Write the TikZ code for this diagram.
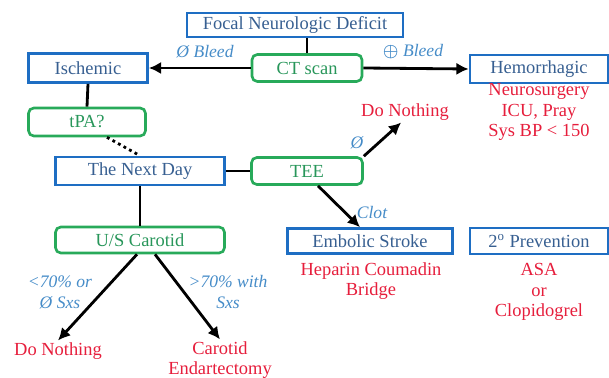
\documentclass[tikz,border=0pt]{standalone}
\usepackage{fontspec}
\setmainfont{Liberation Serif}
\usepackage{bm}
\usetikzlibrary{arrows.meta}
\definecolor{boxblue}{RGB}{30,110,195}
\definecolor{labelblue}{RGB}{55,95,145}
\definecolor{boxgreen}{RGB}{40,170,90}
\definecolor{labelgreen}{RGB}{40,150,90}
\definecolor{alertred}{RGB}{230,30,60}
\definecolor{condblue}{RGB}{70,140,200}
\tikzset{
  bluebox/.style={rectangle,draw=boxblue,line width=1.5pt,text=labelblue,inner sep=0pt},
  greenbox/.style={rectangle,draw=boxgreen,line width=1.5pt,text=labelgreen,inner sep=0pt,rounded corners=3pt},
  redtext/.style={text=alertred,align=center,inner sep=1pt},
  cond/.style={text=condblue,font=\itshape,align=center,inner sep=1pt},
  link/.style={line width=1.6pt},
  arrowlink/.style={link,-{Latex[length=7pt,width=7pt]}}
}

\begin{document}
\begin{tikzpicture}[x=0.02cm,y=-0.02cm,font=\fontsize{10.5}{11.5}\selectfont]
\useasboundingbox (0,0) rectangle (609,378);
%boxes
\path (295,25) node(focal) [bluebox,minimum width=4.32cm,minimum height=0.48cm]{Focal Neurologic Deficit};
\path (307,68) node(ct) [greenbox,minimum width=2.2cm,minimum height=0.54cm]{CT scan};
\path (88,68) node(ischemic) [bluebox,minimum width=2.38cm,minimum height=0.58cm]{Ischemic};
\path (539,69) node(hemo) [bluebox,minimum width=2.76cm,minimum height=0.56cm]{Hemorrhagic};
\path (87,122) node(tpa) [greenbox,minimum width=2.34cm,minimum height=0.56cm]{tPA?};
\path (140,171) node(nextday) [bluebox,minimum width=3.38cm,minimum height=0.56cm]{The Next Day};
\path (307,171) node(tee) [greenbox,minimum width=2.22cm,minimum height=0.54cm]{TEE};
\path (140,240) node(carotid) [greenbox,minimum width=3.38cm,minimum height=0.52cm]{U/S Carotid};
\path (370,241) node(embolic) [bluebox,minimum width=3.3cm,minimum height=0.5cm]{Embolic Stroke};
\path (539,241) node(prevent) [bluebox,minimum width=2.76cm,minimum height=0.52cm]{2\textsuperscript{o} Prevention};
%treatments
\path (539,112) node(hemotx) [redtext]{Neurosurgery\\ICU, Pray\\Sys BP < 150};
\path (405,112) node(nothingtee) [redtext]{Do Nothing};
\path (371,281) node(embolictx) [redtext]{Heparin Coumadin\\Bridge};
\path (539,292) node(preventtx) [redtext]{ASA\\or\\Clopidogrel};
\path (58,351) node(nothingus) [redtext]{Do Nothing};
\path (220,360) node(cea) [redtext]{Carotid\\Endartectomy};
%conditions
\path (205,52) node(nobleed) [cond]{Ø Bleed};
\path (413,52) node(bleed) [cond]{$\bm{\oplus}$ Bleed};
\path (357,143) node(noclot) [cond]{Ø};
\path (372,212) node(clot) [cond]{Clot};
\path (60,292) node(mild) [cond]{<70\% or\\Ø Sxs};
\path (228,292) node(severe) [cond]{>70\% with\\Sxs};
%connectors
\draw[link] (ct.north) -- (ct.north |- focal.south);
\draw[arrowlink] (ct.west) -- (ischemic.east);
\draw[arrowlink] (ct.east) -- (hemo.west);
\draw[link] (ischemic.south) -- (tpa.north);
\draw[link,dotted] ([xshift=0.4cm]tpa.south) -- (nextday.north);
\draw[link] (nextday.east) -- (tee.west);
\draw[link] (nextday.south) -- (carotid.north);
\draw[arrowlink] (tee.north east) -- (nothingtee.250);
\draw[arrowlink] ([xshift=0.22cm]tee.south) -- ([xshift=-0.2cm]embolic.north);
\draw[arrowlink] ([xshift=-0.06cm]carotid.south) -- (nothingus.north);
\draw[arrowlink] ([xshift=0.3cm]carotid.south) -- (cea.north);
\end{tikzpicture}
\end{document}
